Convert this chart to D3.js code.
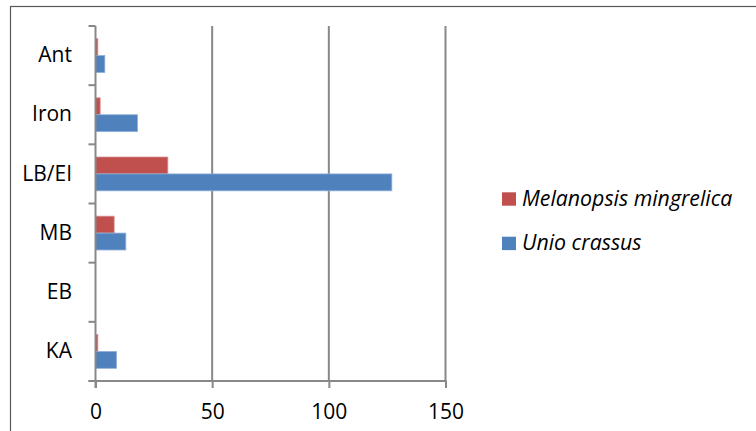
<!DOCTYPE html>
<html>
<head>
<meta charset="utf-8">
<script src="https://cdn.jsdelivr.net/npm/d3@7"></script>
<style>
  html, body { margin: 0; padding: 0; background: #fff; }
  svg { display: block; }
  text { font-family: "Open Sans", "Liberation Sans", sans-serif; fill: #000; }
</style>
</head>
<body>
<svg id="chart" width="756" height="431"></svg>
<script>
// Periods, listed top to bottom
const categories = ["Ant", "Iron", "LB/EI", "MB", "EB", "KA"];
// Specimen counts per period
const melanopsis = [1, 2, 31, 8, 0, 1];
const unio = [4, 18, 127, 13, 0, 9];
const seriesNames = ["Melanopsis mingrelica", "Unio crassus"];
const seriesColors = ["#C0504D", "#4F81BD"];
const seriesStroke = ["#D9908E", "#8FB0DA"];
const xTicks = [0, 50, 100, 150];

const svg = d3.select("#chart");

// Outer chart frame (extends past the right and bottom edges)
svg.append("rect")
  .attr("x", 10.5).attr("y", 6.5)
  .attr("width", 760).attr("height", 440)
  .attr("fill", "#fff")
  .attr("stroke", "#595959").attr("stroke-width", 1.2);

const plot = { left: 95.5, right: 445.5, top: 26, bottom: 381 };

const x = d3.scaleLinear().domain([0, 150]).range([plot.left, plot.right]);
const y = d3.scaleBand().domain(categories).range([plot.top, plot.bottom]).padding(0);
const bw = y.bandwidth();
const barH = bw / 3.5;                 // gap width 150%
const inner = d3.scaleBand().domain([0, 1])
  .range([bw * 0.75 / 3.5, bw - bw * 0.75 / 3.5]).padding(0);

const gridColor = "#888888";

// Vertical gridlines
svg.append("g").selectAll("line")
  .data(xTicks.filter(d => d > 0))
  .join("line")
  .attr("x1", d => x(d)).attr("x2", d => x(d))
  .attr("y1", plot.top).attr("y2", plot.bottom)
  .attr("stroke", gridColor).attr("stroke-width", 2);

// Bars
const rows = categories.map((c, i) => ({ cat: c, vals: [melanopsis[i], unio[i]] }));
const groups = svg.append("g").selectAll("g")
  .data(rows).join("g")
  .attr("transform", d => `translate(0,${y(d.cat)})`);

groups.selectAll("rect")
  .data(d => d.vals.map((v, s) => ({ v, s })))
  .join("rect")
  .filter(d => d.v > 0)
  .attr("x", x(0))
  .attr("y", d => inner(d.s))
  .attr("width", d => x(d.v) - x(0))
  .attr("height", barH)
  .attr("fill", d => seriesColors[d.s])
  .attr("stroke", d => seriesStroke[d.s])
  .attr("stroke-width", 0.8);

// Value axis along the bottom
const xAxis = d3.axisBottom(x).tickValues(xTicks).tickSize(7).tickPadding(16.5).tickSizeOuter(0);
const gx = svg.append("g").attr("transform", `translate(0,${plot.bottom})`).call(xAxis);
gx.select(".domain").remove();
gx.selectAll(".tick line").attr("stroke", gridColor).attr("stroke-width", 2);
gx.selectAll("text").attr("font-size", 21);
svg.append("line")
  .attr("x1", plot.left - 7).attr("x2", plot.right + 1)
  .attr("y1", plot.bottom).attr("y2", plot.bottom)
  .attr("stroke", gridColor).attr("stroke-width", 2);

// Category axis on the left, ticks at band boundaries
const boundaries = categories.map(c => y(c)).concat([plot.bottom]);
svg.append("g").selectAll("line")
  .data(boundaries).join("line")
  .attr("x1", plot.left - 7).attr("x2", plot.left)
  .attr("y1", d => d).attr("y2", d => d)
  .attr("stroke", gridColor).attr("stroke-width", 2);
svg.append("line")
  .attr("x1", plot.left).attr("x2", plot.left)
  .attr("y1", plot.top).attr("y2", plot.bottom + 7)
  .attr("stroke", gridColor).attr("stroke-width", 2);

const yAxis = d3.axisLeft(y).tickSize(0).tickPadding(23.5);
const gy = svg.append("g").attr("transform", `translate(${plot.left},0)`).call(yAxis);
gy.select(".domain").remove();
gy.selectAll("text").attr("font-size", 21);

// Legend
const legend = svg.append("g").selectAll("g")
  .data(seriesNames).join("g")
  .attr("transform", (d, i) => `translate(502,${192.3 + i * 44.4})`);
legend.append("rect")
  .attr("width", 14).attr("height", 13.4)
  .attr("fill", (d, i) => seriesColors[i]);
legend.append("text")
  .attr("x", 20).attr("y", 13.5)
  .attr("font-size", 21.3).attr("font-style", "italic")
  .text(d => d);
</script>
</body>
</html>
